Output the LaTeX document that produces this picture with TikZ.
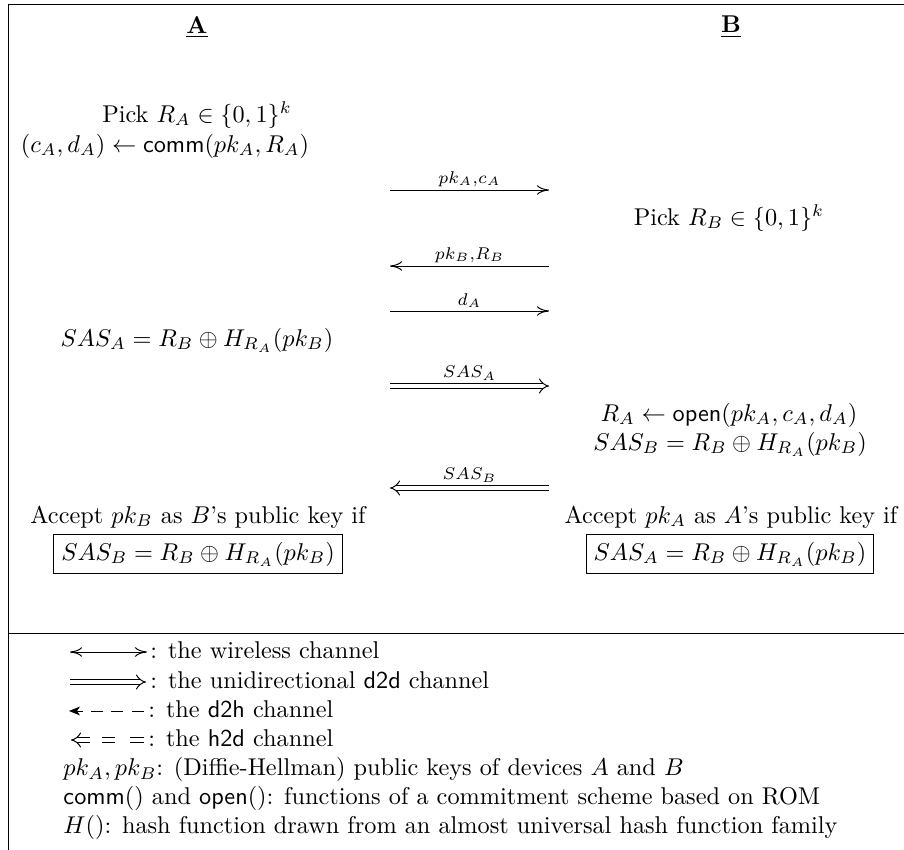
\documentclass[tikz,border=0pt]{standalone}
\usetikzlibrary{arrows.meta}
\begin{document}
\begin{tikzpicture}[x=0.412pt,y=-0.412pt,
  tip/.tip={To[length=5pt,width=4pt]},
  dtip/.tip={Implies[scale=1.35]},
  msg/.style={-{tip}},
  dbl/.style={double, double distance=1.8pt},
  dmsg/.style={dbl, -{dtip}},
  lbl/.style={above, inner sep=1.2pt},
  leg/.style={anchor=base west, inner sep=0pt},
  fbx/.style={draw, inner sep=3pt}]
\useasboundingbox (0,0) rectangle (904,850);
\draw (8,850) -- (8,4) -- (904,4);
\draw (8,633) -- (904,633);

% headers
\node (hA) at (197,27) {\underline{\textbf{A}}};
\node (hB) at (731,27) {\underline{\textbf{B}}};

% party A
\node (pickA) at (197,115) {Pick $R_A \in \{0,1\}^k$};
\node (commA) at (165,146) {$(c_A,d_A) \leftarrow \textsf{comm}(pk_A,R_A)$};
\node (sasA) at (197,340) {$SAS_A = R_B \oplus H_{R_A}(pk_B)$};
\node (accA) at (198,517) {Accept $pk_B$ as $B$'s public key if};
\node[fbx] (boxA) at (198,554) {$SAS_B = R_B \oplus H_{R_A}(pk_B)$};

% party B
\node (pickB) at (729,218) {Pick $R_B \in \{0,1\}^k$};
\node (openB) at (729,415) {$R_A \leftarrow \textsf{open}(pk_A,c_A,d_A)$};
\node (sasB) at (730,444) {$SAS_B = R_B \oplus H_{R_A}(pk_B)$};
\node (accB) at (731,517) {Accept $pk_A$ as $A$'s public key if};
\node[fbx] (boxB) at (730,554) {$SAS_A = R_B \oplus H_{R_A}(pk_B)$};

% messages
\coordinate (m1l) at (390,190); \coordinate (m1r) at (549,190);
\coordinate (m2l) at (390,266); \coordinate (m2r) at (549,266);
\coordinate (m3l) at (390,311); \coordinate (m3r) at (549,311);
\coordinate (m4l) at (390,386); \coordinate (m4r) at (549,386);
\coordinate (m5l) at (390,488); \coordinate (m5r) at (549,488);
\draw[msg] (m1l) -- node[lbl] (t1) {$\scriptstyle pk_A,c_A$} (m1r);
\draw[msg] (m2r) -- node[lbl] (t2) {$\scriptstyle pk_B,R_B$} (m2l);
\draw[msg] (m3l) -- node[lbl] (t3) {$\scriptstyle d_A$} (m3r);
\draw[dmsg] (m4l) -- node[lbl, yshift=1pt] (t4) {$\scriptstyle SAS_A$} (m4r);
\draw[dmsg] (m5r) -- node[lbl, yshift=1pt] (t5) {$\scriptstyle SAS_B$} (m5l);

% legend glyphs
\coordinate (a1l) at (70,652); \coordinate (a1r) at (147,652);
\coordinate (a2l) at (70,682); \coordinate (a2r) at (146,682);
\draw[{tip}-{tip}] (a1l) -- (a1r);
\draw[dbl, -{dtip}] (a2l) -- (a2r);
% d2h: arrow head and three dashes
\coordinate (a3h) at (69,711); \coordinate (a3s) at (83,711);
\coordinate (a3a) at (91,711); \coordinate (a3b) at (103,711);
\coordinate (a3c) at (111,711); \coordinate (a3d) at (123,711);
\coordinate (a3e) at (132,711); \coordinate (a3f) at (144,711);
\draw[{Stealth[length=4.5pt,width=3.6pt,inset=1.2pt]}-] (a3h) -- (a3s);
\draw (a3a) -- (a3b);
\draw (a3c) -- (a3d);
\draw (a3e) -- (a3f);
% h2d: double arrow head and two double dashes
\coordinate (a4h) at (71,740); \coordinate (a4s) at (90,740);
\coordinate (a4a) at (102,740); \coordinate (a4b) at (115,740);
\coordinate (a4c) at (130,740); \coordinate (a4d) at (144,740);
\draw[dbl, {dtip}-] (a4h) -- (a4s);
\draw[dbl] (a4a) -- (a4b);
\draw[dbl] (a4c) -- (a4d);

% legend texts
\node[leg] (g1) at (150,659) {: the wireless channel};
\node[leg] (g2) at (150,689) {: the unidirectional \textsf{d2d} channel};
\node[leg] (g3) at (148,718) {: the \textsf{d2h} channel};
\node[leg] (g4) at (148,747) {: the \textsf{h2d} channel};
\node[leg] (g5) at (63,776) {$pk_A,pk_B$: (Diffie-Hellman) public keys of devices $A$ and $B$};
\node[leg] (g6) at (63,805) {\textsf{comm}() and \textsf{open}(): functions of a commitment scheme based on ROM};
\node[leg] (g7) at (63,834) {$H()$: hash function drawn from an almost universal hash function family};
\end{tikzpicture}
\end{document}
